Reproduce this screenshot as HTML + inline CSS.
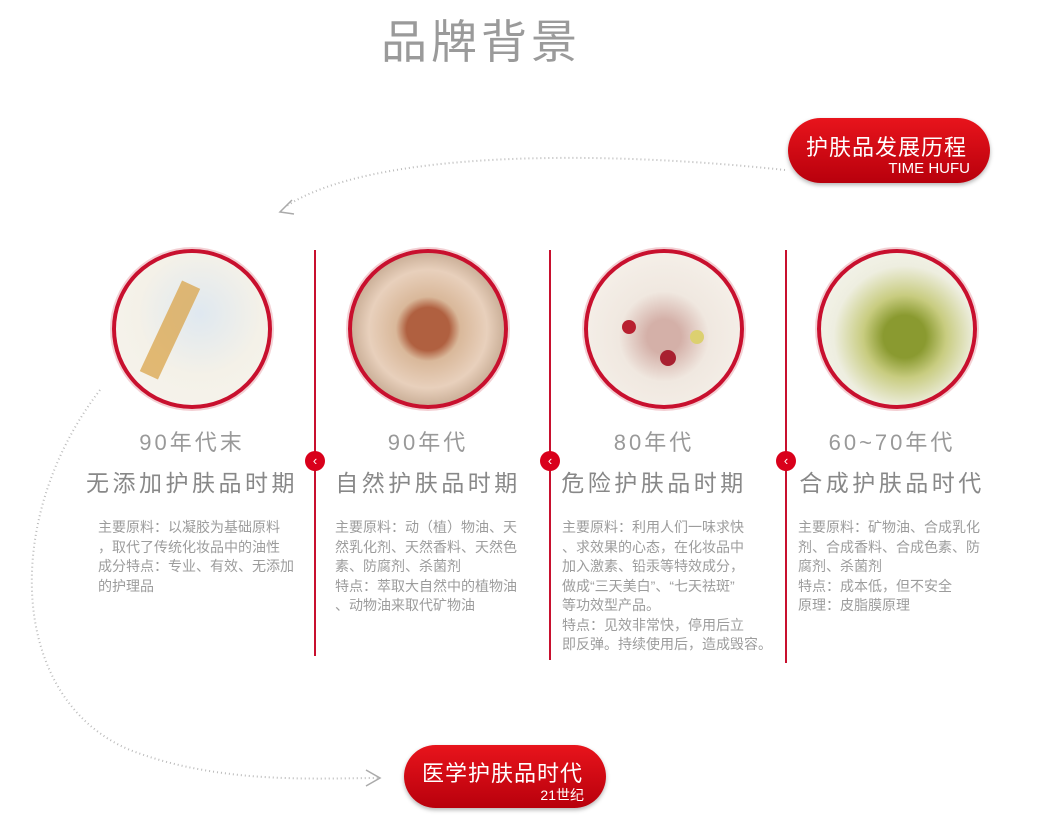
<!DOCTYPE html>
<html><head><meta charset="utf-8"><style>
body{margin:0;width:1051px;height:826px;background:#fff;position:relative;overflow:hidden;font-family:"Liberation Sans","Noto Sans CJK SC",sans-serif;}
.a{position:absolute;}
.title{left:381px;top:6px;font-size:46px;color:#9a9a9a;letter-spacing:4px;}
.badge{border-radius:34px;background:linear-gradient(#e8141c,#b8000c);color:#fff;box-shadow:0 2px 4px rgba(0,0,0,.3);}
.circ{width:152px;height:152px;border-radius:50%;border:4px solid #c8102e;box-shadow:0 0 0 2px #f3d0d4;}
.vl{width:2px;background:#c8102e;}
.dot{width:20px;height:20px;border-radius:50%;background:#d9001b;color:#fff;font-size:13px;text-align:center;line-height:20px;}
.h1{font-size:22px;color:#999;letter-spacing:3px;text-align:center;width:240px;}
.h2{font-size:23px;color:#888;letter-spacing:3.5px;text-align:center;width:260px;}
.t{font-size:14px;color:#9c9c9c;line-height:19.5px;width:210px;}
</style></head><body>
<div class="a title">品牌背景</div>
<svg class="a" style="left:0;top:0" width="1051" height="826">
<path d="M785 170 C600 150 370 150 285 207" fill="none" stroke="#bbb" stroke-width="2" stroke-dasharray="1,3"/>
<path d="M292 200 L280 212 L294 214" fill="none" stroke="#aaa" stroke-width="1.5"/>
<path d="M100 390 C0 520 10 700 130 750 C220 785 320 778 378 778" fill="none" stroke="#bbb" stroke-width="2" stroke-dasharray="1,3"/>
<path d="M366 770 L380 778 L366 786" fill="none" stroke="#aaa" stroke-width="1.5"/>
</svg>
<div class="a badge" style="left:788px;top:118px;width:202px;height:65px;">
<div class="a" style="left:18px;top:12px;font-size:22px;letter-spacing:1px">护肤品发展历程</div>
<div class="a" style="right:20px;top:42px;font-size:15px">TIME HUFU</div></div>
<div class="a badge" style="left:404px;top:745px;width:202px;height:63px;">
<div class="a" style="left:18px;top:11px;font-size:22px;letter-spacing:1px">医学护肤品时代</div>
<div class="a" style="right:22px;top:40px;font-size:14px">21世纪</div></div>

<div class="a circ" style="left:112px;top:249px;background:radial-gradient(circle at 55% 40%,#dfe8f0,#f4f1e8 50%,#f7f4ee);"></div>
<div class="a" style="left:160px;top:280px;width:20px;height:100px;background:#d8a040;transform:rotate(25deg);opacity:.7"></div>
<div class="a circ" style="left:348px;top:249px;background:radial-gradient(circle at 50% 50%,#b06040 0 20%,#d9b89a 30%,#e8d0bc 55%,#c4a890 75%,#eee 100%);"></div>
<div class="a circ" style="left:584px;top:249px;background:radial-gradient(circle at 50% 55%,#d4b0a8 0 15%,#f0e8e0 40%,#f8f4ee);"></div>
<div class="a" style="left:622px;top:320px;width:14px;height:14px;border-radius:50%;background:#b82030"></div>
<div class="a" style="left:660px;top:350px;width:16px;height:16px;border-radius:50%;background:#a82030"></div>
<div class="a" style="left:690px;top:330px;width:14px;height:14px;border-radius:50%;background:#dcd070"></div>
<div class="a circ" style="left:817px;top:249px;background:radial-gradient(circle at 55% 55%,#8a9a30 0 18%,#c8cc80 35%,#eeeee0 60%,#f8f8f4);"></div>

<div class="a vl" style="left:314px;top:250px;height:406px"></div>
<div class="a vl" style="left:549px;top:250px;height:410px"></div>
<div class="a vl" style="left:785px;top:250px;height:413px"></div>
<div class="a dot" style="left:305px;top:451px">‹</div>
<div class="a dot" style="left:540px;top:451px">‹</div>
<div class="a dot" style="left:776px;top:451px">‹</div>

<div class="a h1" style="left:72px;top:425px">90年代末</div>
<div class="a h2" style="left:62px;top:464px">无添加护肤品时期</div>
<div class="a h1" style="left:308px;top:425px">90年代</div>
<div class="a h2" style="left:298px;top:464px">自然护肤品时期</div>
<div class="a h1" style="left:534px;top:425px">80年代</div>
<div class="a h2" style="left:524px;top:464px">危险护肤品时期</div>
<div class="a h1" style="left:772px;top:425px">60~70年代</div>
<div class="a h2" style="left:762px;top:464px">合成护肤品时代</div>

<div class="a t" style="left:98px;top:518px">主要原料：以凝胶为基础原料<br>，取代了传统化妆品中的油性<br>成分特点：专业、有效、无添加<br>的护理品</div>
<div class="a t" style="left:335px;top:518px">主要原料：动（植）物油、天<br>然乳化剂、天然香料、天然色<br>素、防腐剂、杀菌剂<br>特点：萃取大自然中的植物油<br>、动物油来取代矿物油</div>
<div class="a t" style="left:562px;top:518px;width:230px">主要原料：利用人们一味求快<br>、求效果的心态，在化妆品中<br>加入激素、铅汞等特效成分，<br>做成“三天美白”、“七天祛斑”<br>等功效型产品。<br>特点：见效非常快，停用后立<br>即反弹。持续使用后，造成毁容。</div>
<div class="a t" style="left:798px;top:518px">主要原料：矿物油、合成乳化<br>剂、合成香料、合成色素、防<br>腐剂、杀菌剂<br>特点：成本低，但不安全<br>原理：皮脂膜原理</div>
</body></html>
